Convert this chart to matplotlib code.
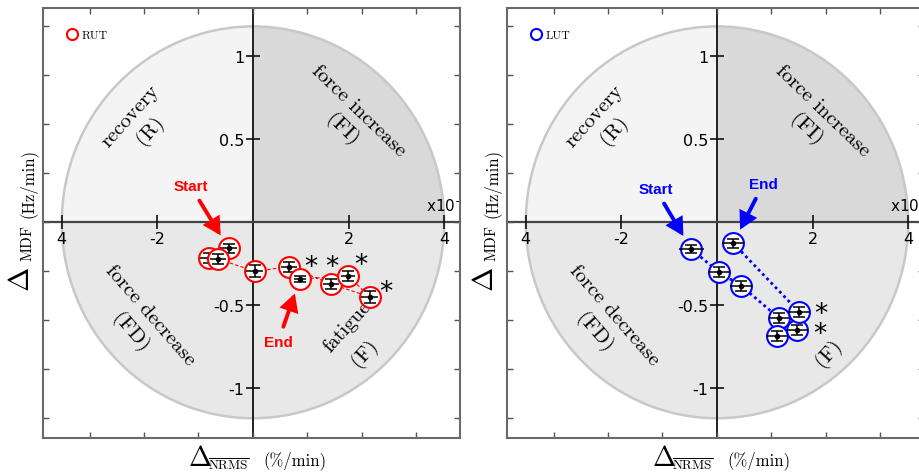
import matplotlib
matplotlib.use("Agg")
import matplotlib.pyplot as plt
import numpy as np
from matplotlib.patches import Wedge, Ellipse
from matplotlib.lines import Line2D
from matplotlib.transforms import Affine2D
from matplotlib.font_manager import FontProperties

# ---------------- data ----------------
# left panel (RUT), in time order (start -> end); x in units of 1e-4 %/min
rut_x = [-0.51, -0.93, -0.73, 0.04, 0.75, 1.64, 2.44, 1.99, 0.98]
rut_y = [-0.157, -0.217, -0.221, -0.295, -0.267, -0.372, -0.448, -0.322, -0.342]
rut_xerr = [0.17, 0.17, 0.17, 0.18, 0.17, 0.17, 0.17, 0.15, 0.12]
rut_yerr = [0.027, 0.03, 0.03, 0.037, 0.03, 0.03, 0.035, 0.03, 0.02]
rut_star_x = [1.21, 1.65, 2.25, 2.78]
rut_star_y = [-0.27, -0.27, -0.255, -0.42]

# right panel (LUT)
lut_x = [-0.54, 0.04, 0.50, 1.30, 1.26, 1.68, 1.72, 0.34]
lut_y = [-0.161, -0.300, -0.381, -0.577, -0.686, -0.650, -0.540, -0.126]
lut_xerr = [0.26, 0.23, 0.23, 0.21, 0.23, 0.22, 0.23, 0.23]
lut_yerr = [0.026, 0.03, 0.03, 0.03, 0.03, 0.03, 0.03, 0.026]
lut_star_x = [2.18, 2.15]
lut_star_y = [-0.555, -0.675]

xticks = [-4, -2, 2, 4]
xticklabels = ["4", "-2", "2", "4"]
yticks = [-1, -0.5, 0.5, 1]
yticklabels = ["-1", "-0.5", "0.5", "1"]
box_xticks = [-3.42, -2.28, -1.14, 0, 1.14, 2.28, 3.42]
box_yticks = [-1.18, -0.885, -0.59, -0.295, 0, 0.295, 0.59, 0.885, 1.18]

XLIM = (-4.393, 4.331)
YLIM = (-1.299, 1.291)
RX, RY = 4.0, 1.18

W, H = 919, 477
fig = plt.figure(figsize=(W / 100, H / 100), dpi=100)

serif = "cmr10"


def panel(left_px, color, name, xs, ys, xerr, yerr, sx, sy, linestyle, lw,
          start_off, end_off, end_idx, draw_order, show_fatigue_word):
    pos = [left_px / W, 38 / H, 417 / W, 430 / H]
    ax = fig.add_axes(pos)
    ax.set_xlim(*XLIM)
    ax.set_ylim(*YLIM)
    # quadrants
    tr = Affine2D().scale(RX, RY) + ax.transData
    ax.add_patch(Wedge((0, 0), 1, 0, 90, transform=tr, facecolor="#d9d9d9", edgecolor="none", zorder=0))
    ax.add_patch(Wedge((0, 0), 1, 90, 180, transform=tr, facecolor="#f4f4f4", edgecolor="none", zorder=0))
    ax.add_patch(Wedge((0, 0), 1, 180, 360, transform=tr, facecolor="#e8e8e8", edgecolor="none", zorder=0))
    ax.add_patch(Ellipse((0, 0), 2 * RX, 2 * RY, facecolor="none", edgecolor="#c8c8c8", lw=1.8, zorder=0.5))

    # central axes
    for s in ["top", "right"]:
        ax.spines[s].set_visible(False)
    ax.spines["left"].set_position("zero")
    ax.spines["bottom"].set_position("zero")
    ax.spines["left"].set_color("#111111")
    ax.spines["bottom"].set_color("#444444")
    ax.spines["left"].set_linewidth(1.3)
    ax.spines["bottom"].set_linewidth(1.6)
    ax.spines["left"].set_zorder(1)
    ax.spines["bottom"].set_zorder(1)
    ax.set_xticks(xticks)
    ax.set_xticklabels(xticklabels)
    ax.set_yticks(yticks)
    ax.set_yticklabels(yticklabels)
    ax.tick_params(direction="inout", length=10, width=1.2, labelsize=11.5, color="#111111", pad=1)
    ax.patch.set_facecolor("white")

    # text regions
    tk = dict(family=serif, fontsize=15, ha="center", va="center", zorder=1.5)
    ax.text(-2.57, 0.642, "recovery", rotation=48, **tk)
    ax.text(-2.16, 0.558, "(R)", rotation=48, **tk)
    ax.text(2.21, 0.676, "force increase", rotation=-44, **tk)
    ax.text(1.87, 0.562, "(FI)", rotation=-44, **tk)
    ax.text(-2.15, -0.558, "force decrease", rotation=-49, **tk)
    ax.text(-2.56, -0.66, "(FD)", rotation=-49, **tk)
    if show_fatigue_word:
        ax.text(1.98, -0.625, "fatigue", rotation=48, **tk)
    ax.text(2.33, -0.78, "(F)", rotation=48, **tk)

    t = ax.text(3.63, 0.068, r"x10$^{-4}$", fontsize=11, math_fontfamily="dejavusans",
                ha="left", va="baseline", zorder=2, clip_on=True)
    t.set_clip_box(ax.bbox)

    # connecting line
    ax.plot(xs, ys, color=color, ls=linestyle, lw=lw, zorder=2)

    # points
    for k, i in enumerate(draw_order):
        z = 3 + k * 0.1
        ax.plot([xs[i]], [ys[i]], "o", ms=15, mfc="white", mec=color, mew=1.5, zorder=z)
        ax.errorbar([xs[i]], [ys[i]], yerr=[yerr[i]], fmt="none", ecolor="black",
                    elinewidth=1.1, capsize=4.5, capthick=1.1, zorder=z + 0.01)
        ax.errorbar([xs[i]], [ys[i]], xerr=[xerr[i]], fmt="none", ecolor="black",
                    elinewidth=1.1, capsize=0, zorder=z + 0.01)
        ax.plot([xs[i]], [ys[i]], "o", ms=3, color="black", zorder=z + 0.02)

    for a, b in zip(sx, sy):
        ax.text(a, b, "*", fontsize=19, ha="center", va="center", zorder=10)

    # start / end arrows
    afont = dict(family=["Liberation Sans Narrow", "Liberation Sans"], fontsize=11,
                 fontweight="bold", color=color)
    ap = dict(arrowstyle="-|>,head_length=0.55,head_width=0.3", lw=2.8, color=color,
              mutation_scale=16, shrinkA=4, shrinkB=11, joinstyle="miter")
    ax.annotate("Start", xy=(xs[0], ys[0]), xytext=start_off, textcoords="offset points",
                ha="center", va="center", arrowprops=ap, zorder=20, **afont)
    ax.annotate("End", xy=(xs[end_idx], ys[end_idx]), xytext=end_off, textcoords="offset points",
                ha="center", va="center", arrowprops=ap, zorder=20, **afont)

    # legend
    h = Line2D([], [], marker="o", ls="none", mfc="none", mec=color, ms=8, mew=1.5)
    ax.legend([h], [name], prop=FontProperties(family=serif, size=8.5), frameon=False,
              loc="upper left", bbox_to_anchor=(0.055, 0.95), borderaxespad=0, borderpad=0,
              handlelength=1.0, handletextpad=0.3)

    # outer box
    axb = fig.add_axes(pos, sharex=None)
    axb.set_xlim(*XLIM)
    axb.set_ylim(*YLIM)
    axb.patch.set_visible(False)
    axb.set_xticks(box_xticks)
    axb.set_yticks(box_yticks)
    axb.tick_params(direction="in", length=4.5, width=1.0, color="#555555",
                    top=True, right=True, labelbottom=False, labelleft=False)
    for s in axb.spines.values():
        s.set_color("#6a6a6a")
        s.set_linewidth(1.5)

    # axis labels (pieces)
    T = ax.transAxes
    ax.text(0.348, -0.063, r"$\Delta$", transform=T, fontsize=20, math_fontfamily="cm",
            ha="left", va="baseline")
    ax.text(0.396, -0.072, r"$\overline{\mathrm{NRMS}}$", transform=T, fontsize=9.5,
            math_fontfamily="cm", ha="left", va="baseline")
    ax.text(0.528, -0.061, "(%/min)", transform=T, family=serif, fontsize=12,
            ha="left", va="baseline")
    ax.text(-0.053, 0.372, r"$\Delta$", transform=T, fontsize=21, math_fontfamily="cm",
            ha="center", va="center", rotation=90)
    ax.text(-0.036, 0.455, r"$\mathrm{MDF}$", transform=T, fontsize=11,
            math_fontfamily="cm", ha="center", va="center", rotation=90)
    ax.text(-0.036, 0.595, "(Hz/min)", transform=T, family=serif, fontsize=12,
            ha="center", va="center", rotation=90)
    return ax


panel(43, "#ff0000", "RUT", rut_x, rut_y, rut_xerr, rut_yerr, rut_star_x, rut_star_y,
      (0, (3, 2)), 0.8, (-27.4, 44.9), (-15.6, -45.1), 8,
      [0, 1, 2, 3, 4, 5, 6, 7, 8], True)
panel(507, "#0000ff", "LUT", lut_x, lut_y, lut_xerr, lut_yerr, lut_star_x, lut_star_y,
      (0, (1, 1.2)), 2.0, (-25.7, 43.2), (21.6, 42.7), 7,
      [0, 7, 1, 2, 3, 4, 5, 6], False)

fig.savefig("out.png", dpi=100)
